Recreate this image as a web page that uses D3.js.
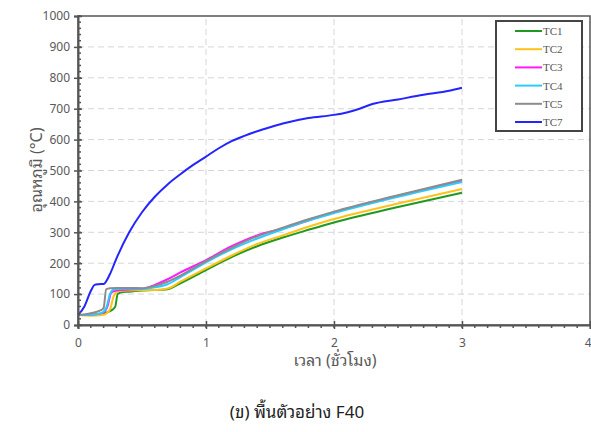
<!DOCTYPE html>
<html>
<head>
<meta charset="utf-8">
<script src="https://cdn.jsdelivr.net/npm/d3@7"></script>
<style>
  body { margin: 0; background: #fff; }
  svg { display: block; }
</style>
</head>
<body>
<svg id="chart"></svg>
<script>
// data: time in hours, temperature in °C
var seriesNames = ["TC1", "TC2", "TC3", "TC4", "TC5", "TC7"];
var seriesColors = ["#1f9a1f", "#ffc21a", "#ff1aff", "#29ccff", "#8c8c8c", "#2424ff"];

var timeTC1 = [0, 0.1, 0.2, 0.25, 0.29, 0.31, 0.35, 0.4, 0.5, 0.6, 0.7, 0.8, 1.0, 1.2, 1.4, 1.6, 1.8, 2.0, 2.5, 3.0];
var tempTC1 = [32, 32, 38, 45, 58, 100, 107, 108, 112, 113, 116, 135, 178, 220, 255, 283, 308, 332, 382, 428];

var timeTC2 = [0, 0.1, 0.2, 0.25, 0.28, 0.32, 0.4, 0.5, 0.6, 0.7, 0.8, 1.0, 1.2, 1.4, 1.6, 1.8, 2.0, 2.5, 3.0];
var tempTC2 = [32, 30, 33, 50, 95, 110, 112, 113, 113, 118, 140, 183, 225, 262, 290, 318, 343, 393, 440];

var timeTC3 = [0, 0.1, 0.2, 0.23, 0.26, 0.3, 0.4, 0.5, 0.6, 0.7, 0.8, 1.0, 1.2, 1.45, 1.6, 1.8, 2.0, 2.5, 3.0];
var tempTC3 = [32, 33, 40, 60, 105, 112, 115, 117, 130, 148, 170, 210, 255, 297, 312, 338, 365, 418, 468];

var timeTC4 = [0, 0.1, 0.18, 0.22, 0.25, 0.28, 0.35, 0.5, 0.6, 0.7, 0.8, 1.0, 1.2, 1.4, 1.6, 1.8, 2.0, 2.5, 3.0];
var tempTC4 = [32, 33, 38, 55, 100, 115, 117, 117, 122, 132, 155, 203, 245, 280, 310, 338, 362, 415, 463];

var timeTC5 = [0, 0.1, 0.18, 0.2, 0.22, 0.25, 0.3, 0.4, 0.5, 0.6, 0.7, 0.8, 1.0, 1.2, 1.4, 1.6, 1.8, 2.0, 2.5, 3.0];
var tempTC5 = [32, 38, 48, 55, 115, 119, 120, 120, 119, 127, 140, 160, 207, 250, 287, 315, 342, 367, 420, 470];

var timeTC7 = [0, 0.05, 0.1, 0.13, 0.16, 0.2, 0.25, 0.3, 0.4, 0.5, 0.6, 0.7, 0.8, 0.9, 1.0, 1.1, 1.2, 1.3, 1.4, 1.5, 1.6, 1.8, 2.0, 2.1, 2.2, 2.3, 2.5, 2.7, 2.9, 3.0];
var tempTC7 = [32, 60, 110, 130, 132, 133, 165, 215, 300, 365, 415, 455, 488, 518, 545, 572, 595, 612, 627, 640, 652, 670, 680, 688, 700, 715, 730, 745, 758, 768];

var seriesTimes = [timeTC1, timeTC2, timeTC3, timeTC4, timeTC5, timeTC7];
var seriesTemps = [tempTC1, tempTC2, tempTC3, tempTC4, tempTC5, tempTC7];

var xTicks = [0, 1, 2, 3, 4];
var yTicks = [0, 100, 200, 300, 400, 500, 600, 700, 800, 900, 1000];

var xTitle = "เวลา (ชั่วโมง)";
var yTitle = "อุณหภูมิ (°C)";
var caption = "(ข) พื้นตัวอย่าง F40";

var width = 591, height = 432;
var margin = {top: 16, right: 1, bottom: 107, left: 78};

var svg = d3.select("#chart")
    .attr("width", width)
    .attr("height", height);

var xScale = d3.scaleLinear()
    .domain([0, 4])
    .range([margin.left, width - margin.right]);

var yScale = d3.scaleLinear()
    .domain([0, 1000])
    .range([height - margin.bottom, margin.top]);

var axisColor = "#555";
var labelColor = "#595959";
var font = "'Noto Sans', 'Noto Sans Thai Looped', 'Noto Sans Thai', Loma, Tahoma, 'Open Sans', sans-serif";
var thaiFont = "'Noto Sans Thai Looped', 'Noto Sans Thai', Loma, Tahoma, 'Noto Sans', sans-serif";

// dashed grid
svg.append("g")
    .selectAll("line")
    .data(yTicks.filter(function(d){ return d > 0 && d < 1000; }))
    .join("line")
    .attr("x1", xScale(0)).attr("x2", xScale(4))
    .attr("y1", function(d){ return yScale(d); })
    .attr("y2", function(d){ return yScale(d); })
    .attr("stroke", "#d6d6d6")
    .attr("stroke-dasharray", "6,4");

svg.append("g")
    .selectAll("line")
    .data(xTicks.filter(function(d){ return d > 0 && d < 4; }))
    .join("line")
    .attr("y1", yScale(0)).attr("y2", yScale(1000))
    .attr("x1", function(d){ return xScale(d); })
    .attr("x2", function(d){ return xScale(d); })
    .attr("stroke", "#d6d6d6")
    .attr("stroke-dasharray", "6,4");

// series
var line = d3.line()
    .x(function(d){ return xScale(d[0]); })
    .y(function(d){ return yScale(d[1]); })
    .curve(d3.curveMonotoneX);

seriesNames.forEach(function(name, i){
    var pts = seriesTimes[i].map(function(t, j){ return [t, seriesTemps[i][j]]; });
    svg.append("path")
        .datum(pts)
        .attr("d", line)
        .attr("fill", "none")
        .attr("stroke", seriesColors[i])
        .attr("stroke-width", 2);
});

// frame
svg.append("rect")
    .attr("x", xScale(0))
    .attr("y", yScale(1000))
    .attr("width", xScale(4) - xScale(0))
    .attr("height", yScale(0) - yScale(1000))
    .attr("fill", "none")
    .attr("stroke", axisColor)
    .attr("stroke-width", 1.5);

// axes
var yAxis = d3.axisLeft(yScale)
    .tickValues(yTicks)
    .tickFormat(d3.format("d"))
    .tickSize(4)
    .tickPadding(4);

var gy = svg.append("g")
    .attr("transform", "translate(" + xScale(0) + ",0)")
    .call(yAxis);
gy.select(".domain").attr("stroke", axisColor).attr("stroke-width", 2);
gy.selectAll(".tick line").attr("stroke", axisColor).attr("x2", 4).attr("x1", -4).attr("stroke-width", 1.5);
gy.selectAll(".tick text")
    .attr("fill", labelColor)
    .style("font-family", font)
    .style("font-size", "12px");

var yMinor = d3.range(0, 1001, 20);
svg.append("g")
    .selectAll("line")
    .data(yMinor)
    .join("line")
    .attr("x1", xScale(0)).attr("x2", xScale(0) + 3)
    .attr("y1", function(d){ return yScale(d); })
    .attr("y2", function(d){ return yScale(d); })
    .attr("stroke", axisColor)
    .attr("stroke-width", 1.5);

var xAxis = d3.axisBottom(xScale)
    .tickValues(xTicks)
    .tickFormat(d3.format("d"))
    .tickSize(4)
    .tickPadding(9);

var gx = svg.append("g")
    .attr("transform", "translate(0," + yScale(0) + ")")
    .call(xAxis);
gx.select(".domain").attr("stroke", axisColor).attr("stroke-width", 2);
gx.selectAll(".tick line").attr("stroke", axisColor).attr("y1", -4).attr("y2", 4).attr("stroke-width", 1.5);
gx.selectAll(".tick text")
    .attr("fill", labelColor)
    .style("font-family", font)
    .style("font-size", "12px")
    .attr("text-anchor", function(d){ return d === 4 ? "end" : "middle"; })
    .attr("dx", function(d){ return d === 4 ? 1 : 0; });

var xMinor = d3.range(0, 40).map(function(d){ return d / 10; });
svg.append("g")
    .selectAll("line")
    .data(xMinor)
    .join("line")
    .attr("y1", yScale(0)).attr("y2", yScale(0) + 3)
    .attr("x1", function(d){ return xScale(d); })
    .attr("x2", function(d){ return xScale(d); })
    .attr("stroke", axisColor)
    .attr("stroke-width", 1.5);

// titles
svg.append("text")
    .attr("x", 335)
    .attr("y", 366)
    .attr("text-anchor", "middle")
    .attr("fill", labelColor)
    .style("font-family", font)
    .style("font-size", "16px")
    .text(xTitle);

svg.append("text")
    .attr("transform", "translate(42,170) rotate(-90)")
    .attr("text-anchor", "middle")
    .attr("fill", labelColor)
    .style("font-family", font)
    .style("font-size", "16px")
    .text(yTitle);

svg.append("text")
    .attr("x", 297)
    .attr("y", 418)
    .attr("text-anchor", "middle")
    .attr("fill", "#222")
    .style("font-family", thaiFont)
    .style("font-weight", "normal")
    .style("font-size", "17px")
    .text(caption);

// legend
var legend = svg.append("g");
legend.append("rect")
    .attr("x", 496).attr("y", 21)
    .attr("width", 86).attr("height", 110)
    .attr("fill", "#fff")
    .attr("stroke", "#444")
    .attr("stroke-width", 2);

seriesNames.forEach(function(name, i){
    var y = 31 + i * 18.2;
    legend.append("line")
        .attr("x1", 515).attr("x2", 542)
        .attr("y1", y).attr("y2", y)
        .attr("stroke", seriesColors[i])
        .attr("stroke-width", 2);
    legend.append("text")
        .attr("x", 543)
        .attr("y", y + 4)
        .attr("fill", "#555")
        .style("font-family", "'Liberation Serif', serif")
        .style("font-size", "11px")
        .text(name);
});
</script>
</body>
</html>
